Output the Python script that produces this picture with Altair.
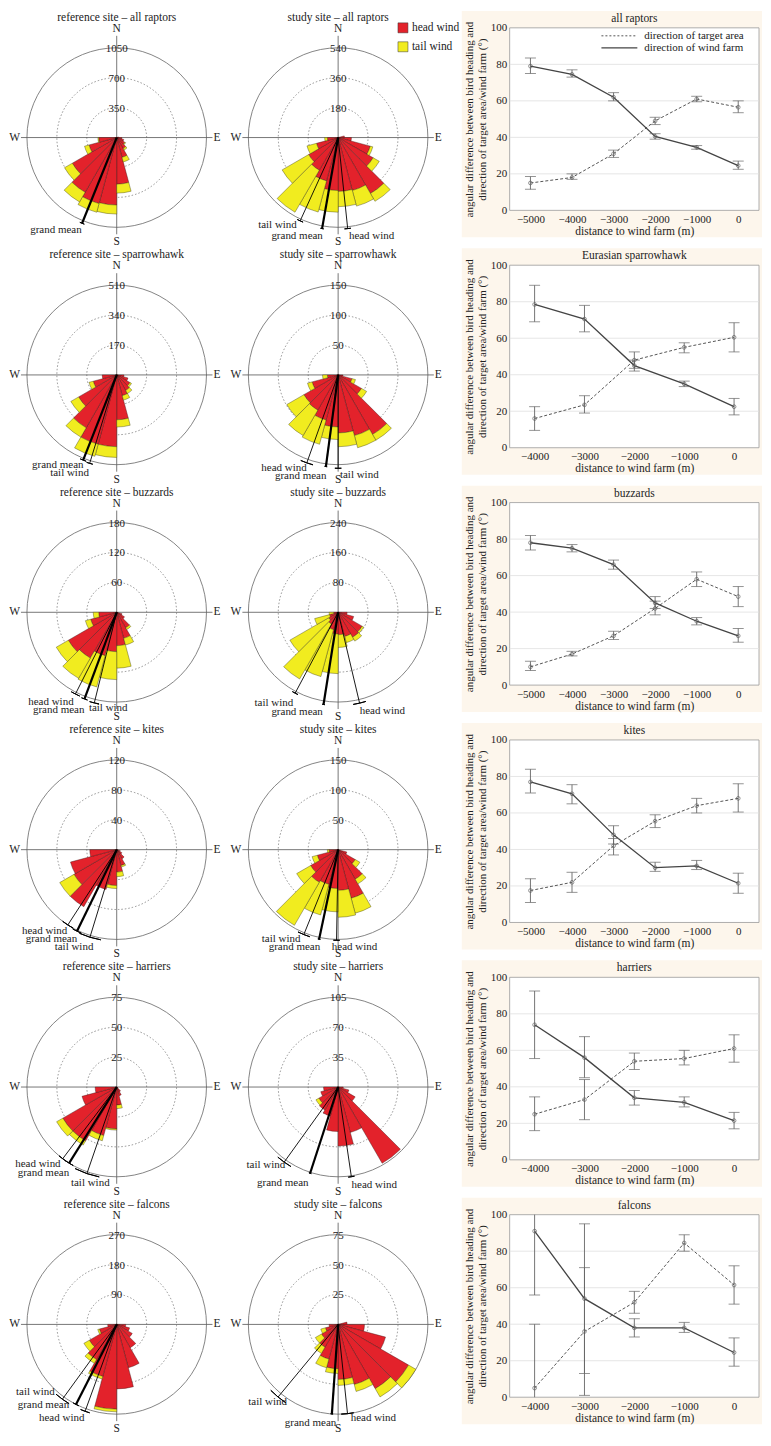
import math
import altair as alt
import pandas as pd

FONT = "Liberation Serif"
RED = "#e3222b"
YELLOW = "#f1ec1f"
CREAM = "#fdf6ec"
INK = "#222222"

R = 90          # outer ring radius (px)
ROSE_H = 238
CX = 108
CY = 127
W1 = 216
W2 = 274
LW = 250
LH = 183
TOP = 17

# ---------------- wind-rose data (15 degree sectors, start bearings) -------------
SECTOR_STARTS = [75, 90, 105, 120, 135, 150, 165, 180, 195, 210, 225, 240, 255]
SECTOR_WIDTH = 15

REF_ALL_HEAD = [25, 60, 85, 110, 150, 240, 545, 790, 800, 740, 600, 335, 210]
REF_ALL_TAIL = [0, 0, 0, 10, 20, 55, 105, 105, 105, 130, 105, 55, 10]
STUDY_ALL_HEAD = [38, 80, 200, 243, 389, 330, 324, 319, 270, 227, 205, 135, 65]
STUDY_ALL_TAIL = [0, 0, 16, 43, 54, 97, 92, 130, 194, 292, 184, 59, 16]
REF_SPH_HEAD = [0, 41, 66, 87, 102, 122, 255, 408, 408, 347, 250, 138, 82]
REF_SPH_TAIL = [0, 0, 0, 10, 20, 26, 41, 61, 71, 61, 51, 25, 0]
STUDY_SPH_HEAD = [0, 8, 24, 45, 115, 105, 97, 87, 78, 68, 66, 45, 18]
STUDY_SPH_TAIL = [0, 0, 6, 10, 11, 21, 23, 21, 42, 49, 33, 8, 8]
REF_BUZ_HEAD = [0, 0, 11, 18, 36, 54, 67, 79, 90, 106, 112, 54, 36]
REF_BUZ_TAIL = [0, 0, 0, 0, 4, 14, 45, 56, 65, 47, 28, 11, 11]
STUDY_BUZ_HEAD = [0, 24, 43, 74, 77, 67, 60, 58, 48, 36, 29, 24, 12]
STUDY_BUZ_TAIL = [0, 0, 0, 5, 12, 17, 34, 106, 130, 170, 120, 41, 12]
REF_KIT_HEAD = [0, 0, 5, 8, 14, 22, 30, 48, 55, 88, 66, 64, 36]
REF_KIT_TAIL = [0, 0, 0, 0, 0, 2, 6, 4, 0, 0, 22, 0, 0]
STUDY_KIT_HEAD = [0, 0, 15, 33, 57, 84, 68, 65, 60, 63, 53, 36, 15]
STUDY_KIT_TAIL = [0, 0, 0, 9, 9, 26, 45, 39, 53, 83, 27, 9, 3]
REF_HAR_HEAD = [0, 0, 0, 0, 4.5, 7.5, 15, 35, 42, 52, 52, 30, 18]
REF_HAR_TAIL = [0, 0, 0, 0, 0, 0, 3, 1, 4.5, 4, 6, 0, 0]
STUDY_HAR_HEAD = [0, 6, 13, 23, 103, 55, 69, 52, 35, 31, 26, 21, 17]
STUDY_HAR_TAIL = [0, 0, 0, 0, 0, 0, 0, 0, 0, 0, 4, 0, 0]
REF_FAL_HEAD = [0, 27, 40, 54, 81, 135, 194, 255, 162, 122, 95, 54, 27]
REF_FAL_TAIL = [0, 0, 0, 0, 0, 0, 0, 8, 8, 13, 19, 5, 0]
STUDY_FAL_HEAD = [7.5, 22, 41, 68, 62, 52, 46, 37, 30, 22, 16, 11, 7.5]
STUDY_FAL_TAIL = [0, 0, 0, 7, 8, 6, 5, 4, 7.5, 6, 6, 4, 0]

HW, GM, TW = "head wind", "grand mean", "tail wind"

# mean directions: names, bearing (deg), length (fraction of outer ring), CI half-width (deg)
ROSES = [
    [dict(title="reference site – all raptors", maxval=1050, head=REF_ALL_HEAD, tail=REF_ALL_TAIL,
          names=[GM], dirs=[202], lens=[1.03], cis=[1.5],
          lab=[GM], lx=[-0.39], ly=[-1.03], la=["right"]),
     dict(title="study site – all raptors", maxval=540, head=STUDY_ALL_HEAD, tail=STUDY_ALL_TAIL,
          names=[TW, GM, HW], dirs=[204.5, 190, 174], lens=[1.02, 1.03, 1.02], cis=[2, 1, 2],
          lab=[TW, GM, HW], lx=[-0.46, -0.17, 0.12], ly=[-0.975, -1.10, -1.10], la=["right", "right", "left"])],
    [dict(title="reference site – sparrowhawk", maxval=510, head=REF_SPH_HEAD, tail=REF_SPH_TAIL,
          names=[GM, TW], dirs=[201.5, 197], lens=[1.02, 1.03], cis=[2, 2],
          lab=[GM, TW], lx=[-0.37, -0.31], ly=[-1.0, -1.09], la=["right", "right"]),
     dict(title="study site – sparrowhawk", maxval=150, head=STUDY_SPH_HEAD, tail=STUDY_SPH_TAIL,
          names=[HW, GM, TW], dirs=[199.6, 187.6, 180], lens=[1.04, 1.03, 1.04], cis=[4, 0.8, 2],
          lab=[HW, GM, TW], lx=[-0.35, -0.13, 0.02], ly=[-1.04, -1.13, -1.11], la=["right", "right", "left"])],
    [dict(title="reference site – buzzards", maxval=180, head=REF_BUZ_HEAD, tail=REF_BUZ_TAIL,
          names=[HW, GM, TW], dirs=[206.8, 200.4, 193.9], lens=[1.02, 1.03, 1.04], cis=[3, 2, 3],
          lab=[HW, GM, TW], lx=[-0.48, -0.36, -0.31], ly=[-1.0, -1.09, -1.07], la=["right", "right", "left"]),
     dict(title="study site – buzzards", maxval=240, head=STUDY_BUZ_HEAD, tail=STUDY_BUZ_TAIL,
          names=[TW, GM, HW], dirs=[208, 189, 166.7], lens=[1.02, 1.04, 1.04], cis=[2, 0.8, 4],
          lab=[TW, GM, HW], lx=[-0.50, -0.17, 0.24], ly=[-1.01, -1.11, -1.10], la=["right", "right", "left"])],
    [dict(title="reference site – kites", maxval=120, head=REF_KIT_HEAD, tail=REF_KIT_TAIL,
          names=[HW, GM, TW], dirs=[213, 206, 197], lens=[1.0, 1.01, 1.02], cis=[4, 3, 7],
          lab=[HW, GM, TW], lx=[-0.55, -0.44, -0.26], ly=[-0.91, -0.99, -1.08], la=["right", "right", "right"]),
     dict(title="study site – kites", maxval=150, head=STUDY_KIT_HEAD, tail=STUDY_KIT_TAIL,
          names=[TW, GM, HW], dirs=[202, 192, 181], lens=[1.02, 1.02, 1.01], cis=[4, 0.8, 2],
          lab=[TW, GM, HW], lx=[-0.42, -0.20, -0.07], ly=[-1.0, -1.09, -1.09], la=["right", "right", "left"])],
    [dict(title="reference site – harriers", maxval=75, head=REF_HAR_HEAD, tail=REF_HAR_TAIL,
          names=[HW, GM, TW], dirs=[217, 212, 199], lens=[1.0, 1.0, 1.02], cis=[3, 3, 8],
          lab=[HW, GM, TW], lx=[-0.625, -0.53, -0.51], ly=[-0.86, -0.96, -1.07], la=["right", "right", "left"]),
     dict(title="study site – harriers", maxval=105, head=STUDY_HAR_HEAD, tail=STUDY_HAR_TAIL,
          names=[TW, GM, HW], dirs=[215.7, 198, 171.6], lens=[1.03, 1.01, 1.01], cis=[5, 0.8, 2],
          lab=[TW, GM, HW], lx=[-0.59, -0.33, 0.15], ly=[-0.87, -1.07, -1.09], la=["right", "right", "left"])],
    [dict(title="reference site – falcons", maxval=270, head=REF_FAL_HEAD, tail=REF_FAL_TAIL,
          names=[TW, GM, HW], dirs=[216, 207, 200], lens=[1.03, 1.0, 1.03], cis=[5, 2, 3],
          lab=[TW, GM, HW], lx=[-0.69, -0.53, -0.36], ly=[-0.75, -0.90, -1.04], la=["right", "right", "right"]),
     dict(title="study site – falcons", maxval=75, head=STUDY_FAL_HEAD, tail=STUDY_FAL_TAIL,
          names=[TW, GM, HW], dirs=[219.6, 184, 174], lens=[1.05, 1.0, 1.0], cis=[6, 0.8, 4],
          lab=[TW, GM, HW], lx=[-0.57, -0.02, 0.14], ly=[-0.86, -1.10, -1.04], la=["right", "right", "left"])],
]

# ---------------- line-chart data ----------------
D5 = [-5000, -4000, -3000, -2000, -1000, 0]
D4 = [-4000, -3000, -2000, -1000, 0]

LINES = [
    dict(title="all raptors", d=D5, dom=[-5500, 500],
         wf=[79, 74.5, 62, 40.5, 34.5, 24.5], wf_lo=[75, 73, 60, 39, 33.5, 22.5], wf_hi=[83.5, 77, 64.5, 42, 35.5, 27],
         ta=[15, 18, 31, 49, 61, 56.5], ta_lo=[11.5, 17, 29, 47, 59.5, 53.5], ta_hi=[18.5, 20, 33, 51, 62.5, 60]),
    dict(title="Eurasian sparrowhawk", d=D4, dom=[-4500, 500],
         wf=[78.5, 70.5, 45, 35, 22.5], wf_lo=[69, 63.5, 42, 33.5, 18], wf_hi=[89, 78, 48, 36.5, 27],
         ta=[16, 23.5, 48, 55, 60.5], ta_lo=[9.5, 19, 43.5, 52, 52.5], ta_hi=[22.5, 28.5, 52.5, 57.5, 68.5]),
    dict(title="buzzards", d=D5, dom=[-5500, 500],
         wf=[78, 75, 66, 45, 35, 27], wf_lo=[74, 73, 63.5, 42, 33, 23.5], wf_hi=[82, 77, 68.5, 48.5, 37, 31],
         ta=[10, 17, 27, 42, 58, 48.5], ta_lo=[8, 16, 25, 38.5, 54, 43], ta_hi=[13, 18.5, 29.5, 46, 62, 54]),
    dict(title="kites", d=D5, dom=[-5500, 500],
         wf=[77, 70.5, 48, 30, 31, 21.5], wf_lo=[71, 65, 43, 28, 29, 16], wf_hi=[84, 75.5, 53, 33, 34, 27],
         ta=[17.5, 22, 42, 55.5, 64, 68], ta_lo=[11, 16.5, 37, 52, 60, 60.5], ta_hi=[24, 27.5, 46, 59, 68, 76]),
    dict(title="harriers", d=D4, dom=[-4500, 500],
         wf=[74, 56, 34, 31.5, 21.5], wf_lo=[55.5, 45, 30, 29, 17], wf_hi=[92.5, 67.5, 38, 34.5, 26],
         ta=[25, 33, 54, 55.5, 61], ta_lo=[16, 22, 49.5, 52, 53.5], ta_hi=[34.5, 44, 58.5, 60, 68.5]),
    dict(title="falcons", d=D4, dom=[-4500, 500],
         wf=[91, 54, 38, 38, 24.5], wf_lo=[56, 13, 33, 35.5, 17], wf_hi=[126, 95, 43, 41, 32.5],
         ta=[5, 36, 52, 84.5, 61.5], ta_lo=[-30, 1, 46, 80, 51], ta_hi=[40, 71, 58, 89, 72]),
]

THETA = alt.Scale(domain=[0, 360], range=[0, 2 * math.pi])
ONE = pd.DataFrame({"k": [0]})


def txt(s, x, y, align="center", baseline="middle", size=11.5):
    return alt.Chart(ONE).mark_text(text=s, align=align, baseline=baseline, font=FONT,
                                    fontSize=size, color=INK).encode(x=alt.value(x), y=alt.value(y))


def rose(p, width, legend=False):
    maxval = p["maxval"]
    rad = alt.Scale(type="linear", domain=[0, maxval], range=[0, R], zero=True, nice=False)
    xs = alt.Scale(domain=[-CX / R, (width - CX) / R], range=[0, width], nice=False, zero=False)
    ys = alt.Scale(domain=[-(ROSE_H - CY) / R, CY / R], nice=False, zero=False)
    cx, cy = alt.value(CX), alt.value(CY)
    layers = []

    rings = pd.DataFrame({"v": [maxval // 3, 2 * maxval // 3, maxval]})
    rb = alt.Chart(rings).transform_calculate(t0="0", t1="360", fy=f"datum.v / {maxval}", fx="0")
    layers.append(rb.transform_filter(f"datum.v < {maxval}").mark_arc(
        fillOpacity=0, stroke="#777", strokeWidth=0.8, strokeDash=[1.5, 2]).encode(
        theta=alt.Theta("t0:Q", scale=THETA), theta2="t1:Q",
        radius=alt.Radius("v:Q", scale=rad), x=cx, y=cy))
    layers.append(rb.transform_filter(f"datum.v >= {maxval}").mark_arc(
        fillOpacity=0, stroke="#777", strokeWidth=0.9).encode(
        theta=alt.Theta("t0:Q", scale=THETA), theta2="t1:Q",
        radius=alt.Radius("v:Q", scale=rad), x=cx, y=cy))

    layers.append(alt.Chart(ONE).mark_rule(color="#555", strokeWidth=0.8).encode(
        x=alt.value(CX - 96), x2=alt.value(CX + 96), y=cy))
    layers.append(alt.Chart(ONE).mark_rule(color="#555", strokeWidth=0.8).encode(
        x=cx, y=alt.value(CY - 102), y2=alt.value(CY + 97)))

    sect = pd.DataFrame({"start": SECTOR_STARTS, "head": p["head"], "tail": p["tail"]})
    sb = alt.Chart(sect).transform_calculate(end=f"datum.start + {SECTOR_WIDTH}",
                                             total="datum.head + datum.tail")
    layers.append(sb.transform_filter("datum.head > 0").mark_arc(
        fill=RED, stroke="#3a1010", strokeWidth=0.4).encode(
        theta=alt.Theta("start:Q", scale=THETA), theta2="end:Q",
        radius=alt.Radius("head:Q", scale=rad), x=cx, y=cy))
    layers.append(sb.transform_filter("datum.tail > 0").mark_arc(
        fill=YELLOW, stroke="#3a3a10", strokeWidth=0.4).encode(
        theta=alt.Theta("start:Q", scale=THETA), theta2="end:Q",
        radius=alt.Radius("total:Q", scale=rad), radius2="head:Q", x=cx, y=cy))

    ml = pd.DataFrame({"name": p["names"], "dir": p["dirs"], "len": p["lens"], "ci": p["cis"]})
    mb = alt.Chart(ml).transform_calculate(
        ex="datum.len * sin(datum.dir * PI / 180)",
        ey="datum.len * cos(datum.dir * PI / 180)",
        x0="0", y0="0",
        r=f"datum.len * {maxval}", r2=f"datum.len * {maxval}",
        t0="datum.dir - datum.ci", t1="datum.dir + datum.ci",
        sw="datum.name == 'grand mean' ? 2.2 : 0.9")
    layers.append(mb.mark_rule(color="black").encode(
        x=alt.X("x0:Q", scale=xs, axis=None), y=alt.Y("y0:Q", scale=ys, axis=None),
        x2="ex:Q", y2="ey:Q", strokeWidth=alt.StrokeWidth("sw:Q", scale=None, legend=None)))
    layers.append(mb.mark_arc(fillOpacity=0, stroke="black", strokeWidth=1).encode(
        theta=alt.Theta("t0:Q", scale=THETA), theta2="t1:Q",
        radius=alt.Radius("r:Q", scale=rad), radius2="r2:Q", x=cx, y=cy))

    lab = pd.DataFrame({"text": p["lab"], "lx": p["lx"], "ly": p["ly"], "align": p["la"]})
    for al in ["left", "right"]:
        layers.append(alt.Chart(lab).transform_filter(f"datum.align == '{al}'").mark_text(
            align=al, baseline="middle", font=FONT, fontSize=11, color=INK).encode(
            x=alt.X("lx:Q", scale=xs, axis=None), y=alt.Y("ly:Q", scale=ys, axis=None), text="text:N"))

    layers.append(rb.mark_text(font=FONT, fontSize=11, color=INK, baseline="middle", dy=1).encode(
        x=alt.X("fx:Q", scale=xs, axis=None), y=alt.Y("fy:Q", scale=ys, axis=None),
        text=alt.Text("v:Q", format="d")))

    layers.append(txt("N", CX, CY - 109))
    layers.append(txt("S", CX, CY + 105))
    layers.append(txt("W", CX - 97, CY, align="right"))
    layers.append(txt("E", CX + 97, CY, align="left"))
    layers.append(txt(p["title"], CX, 1, baseline="top", size=11.5))

    if legend:
        layers.append(alt.Chart(ONE).mark_rect(fill=RED, stroke="#333", strokeWidth=0.5).encode(
            x=alt.value(168), x2=alt.value(178), y=alt.value(12), y2=alt.value(22)))
        layers.append(alt.Chart(ONE).mark_rect(fill=YELLOW, stroke="#333", strokeWidth=0.5).encode(
            x=alt.value(168), x2=alt.value(178), y=alt.value(31), y2=alt.value(41)))
        layers.append(txt("head wind", 182, 17, align="left"))
        layers.append(txt("tail wind", 182, 36, align="left"))

    return alt.layer(*layers).properties(width=width, height=ROSE_H)


def line_panel(q, legend=False):
    d = q["d"]
    n = len(d)
    df = pd.DataFrame({"d": d * 2, "s": ["target"] * n + ["farm"] * n,
                       "m": q["ta"] + q["wf"], "lo": q["ta_lo"] + q["wf_lo"], "hi": q["ta_hi"] + q["wf_hi"]})
    xsc = alt.Scale(domain=q["dom"], nice=False, zero=False)
    ysc = alt.Scale(domain=[0, 100], range=[TOP + LH, TOP], nice=False, clamp=True)
    xax = alt.Axis(values=d, format="d", title="distance to wind farm (m)", grid=False, domain=False,
                   ticks=False, labelPadding=3, titlePadding=1, labelFont=FONT, titleFont=FONT,
                   labelFontSize=11, titleFontSize=11.5, titleFontWeight="normal",
                   labelColor=INK, titleColor=INK, zindex=1)
    yax = alt.Axis(values=[0, 20, 40, 60, 80, 100],
                   title=["angular difference between bird heading and",
                          "direction of target area/wind farm (°)"],
                   grid=False, domain=False, ticks=False, labelPadding=3, titlePadding=3,
                   labelFont=FONT, titleFont=FONT, labelFontSize=11, titleFontSize=11,
                   titleFontWeight="normal", labelColor=INK, titleColor=INK, zindex=1)
    X = alt.X("d:Q", scale=xsc, axis=xax)
    base = alt.Chart(df)
    layers = [
        alt.Chart(ONE).mark_rect(fill=CREAM).encode(
            x=alt.value(-48), x2=alt.value(LW + 3), y=alt.value(0), y2=alt.value(TOP + LH + 27)),
        alt.Chart(ONE).mark_rect(fill="white", stroke="#9a9a9a", strokeWidth=0.8).encode(
            x=alt.value(0), x2=alt.value(LW), y=alt.value(TOP), y2=alt.value(TOP + LH)),
        alt.Chart(pd.DataFrame({"g": [20, 40, 60, 80]})).mark_rule(color="#e0e0e0", strokeWidth=0.8).encode(
            y=alt.Y("g:Q", scale=ysc, axis=yax)),
        base.transform_filter("datum.s == 'target'").mark_line(
            color="#555", strokeWidth=1, strokeDash=[3, 2]).encode(x=X, y=alt.Y("m:Q", scale=ysc, axis=yax)),
        base.transform_filter("datum.s == 'farm'").mark_line(
            color="#444", strokeWidth=1.3).encode(x=X, y=alt.Y("m:Q", scale=ysc, axis=yax)),
        base.mark_rule(color="#666", strokeWidth=0.9).encode(
            x=X, y=alt.Y("lo:Q", scale=ysc, axis=yax), y2="hi:Q"),
        base.transform_filter("datum.lo >= 0 && datum.lo <= 100").mark_tick(
            orient="horizontal", size=11, thickness=1, color="#666").encode(
            x=X, y=alt.Y("lo:Q", scale=ysc, axis=yax)),
        base.transform_filter("datum.hi >= 0 && datum.hi <= 100").mark_tick(
            orient="horizontal", size=11, thickness=1, color="#666").encode(
            x=X, y=alt.Y("hi:Q", scale=ysc, axis=yax)),
        base.mark_point(shape="circle", size=14, filled=False, color="#555", strokeWidth=0.9).encode(
            x=X, y=alt.Y("m:Q", scale=ysc, axis=yax)),
        txt(q["title"], LW / 2, 8, size=11.5),
    ]
    if legend:
        layers += [
            alt.Chart(ONE).mark_rule(color="#555", strokeWidth=1, strokeDash=[2, 2]).encode(
                x=alt.value(92), x2=alt.value(128), y=alt.value(TOP + 8)),
            alt.Chart(ONE).mark_rule(color="#444", strokeWidth=1.3).encode(
                x=alt.value(92), x2=alt.value(128), y=alt.value(TOP + 20)),
            txt("direction of target area", 135, TOP + 8, align="left", size=11),
            txt("direction of wind farm", 135, TOP + 20, align="left", size=11),
        ]
    return alt.layer(*layers).properties(width=LW, height=TOP + LH)


panels = []
for i in range(6):
    panels.append(rose(ROSES[i][0], W1))
    panels.append(rose(ROSES[i][1], W2, legend=(i == 0)))
    panels.append(line_panel(LINES[i], legend=(i == 0)))

chart = alt.concat(*panels, columns=3, spacing=alt.RowColnumber(row=0, column=6),
                   bounds="flush", align="each").properties(padding=0).configure_view(stroke="transparent")
chart.save("out.html", embed_options={"renderer": "svg", "actions": False})
